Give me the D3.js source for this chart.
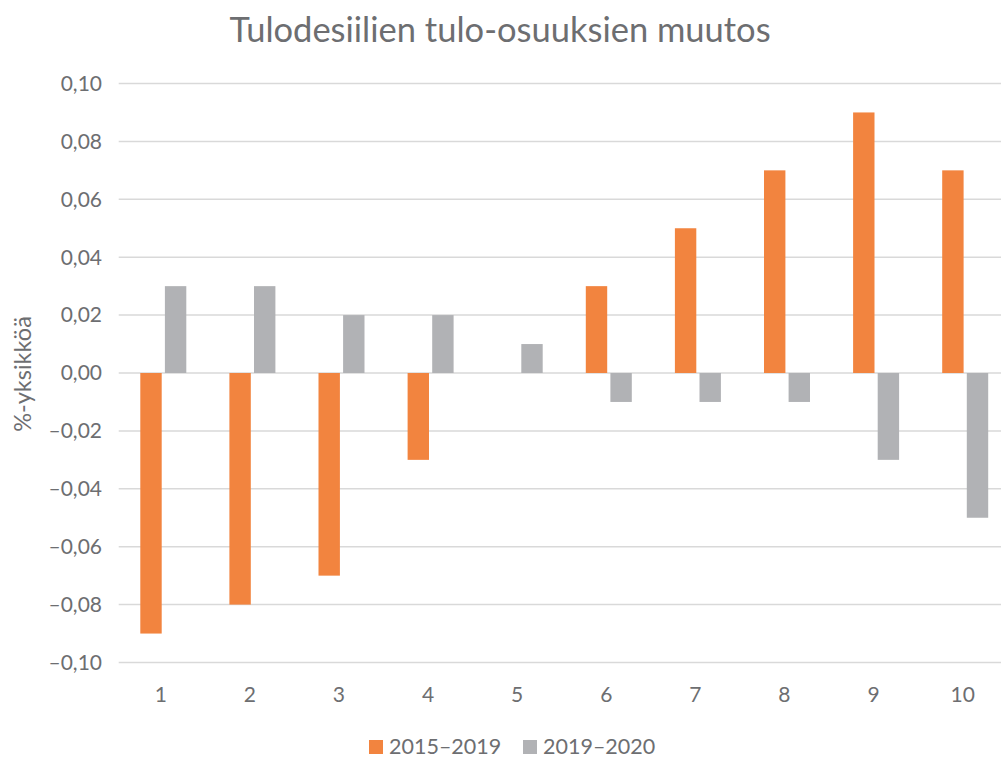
<!DOCTYPE html>
<html>
<head>
<meta charset="utf-8">
<script src="https://cdn.jsdelivr.net/npm/d3@7"></script>
<style>
  body { margin: 0; background: #fff; }
  text { font-family: Lato, "Open Sans", sans-serif; fill: #6d6e71; }
</style>
</head>
<body>
<div id="chart"></div>
<script>
// Data
var deciles = ['1', '2', '3', '4', '5', '6', '7', '8', '9', '10']
var series = ['2015–2019', '2019–2020']
var change2015 = [-0.09, -0.08, -0.07, -0.03, 0, 0.03, 0.05, 0.07, 0.09, 0.07]
var change2019 = [0.03, 0.03, 0.02, 0.02, 0.01, -0.01, -0.01, -0.01, -0.03, -0.05]
var yTicks = [-0.10, -0.08, -0.06, -0.04, -0.02, 0, 0.02, 0.04, 0.06, 0.08, 0.10]
var colors = ['#f2843f', '#b1b2b5']

var W = 1001, H = 758
var svg = d3.select('#chart').append('svg').attr('width', W).attr('height', H)

var rows = deciles.map(function(d, i){ return {dec: d, vals: [change2015[i], change2019[i]]} })

// plot area runs a bit past the right edge, like the original
var x = d3.scaleBand().domain(deciles).range([118.7, 1009.7])
var x1 = d3.scaleBand().domain(series).range([21.6, 67.6]).paddingInner(0.13)
var y = d3.scaleLinear().domain([-0.10, 0.10]).range([662.5, 83.5])

var fmt = function(d){
  var s = Math.abs(d).toFixed(2).replace('.', ',')
  return (d < -1e-9 ? '–' : '') + s
}

// gridlines
svg.append('g').selectAll('line').data(yTicks).join('line')
  .attr('x1', 118.7).attr('x2', W)
  .attr('y1', function(d){ return y(d) }).attr('y2', function(d){ return y(d) })
  .attr('stroke', '#d9d9d9').attr('stroke-width', 1.5)

// y tick labels
svg.append('g').selectAll('text').data(yTicks).join('text')
  .attr('x', 102).attr('y', function(d){ return y(d) })
  .attr('dy', '0.35em').attr('text-anchor', 'end')
  .style('font-size', '21px')
  .text(fmt)

// bars
var g = svg.append('g').selectAll('g').data(rows).join('g')
  .attr('transform', function(d){ return 'translate(' + x(d.dec) + ',0)' })

g.selectAll('rect').data(function(d){ return d.vals.map(function(v, i){ return {s: series[i], v: v, i: i} }) })
  .join('rect')
  .attr('x', function(d){ return x1(d.s) })
  .attr('width', x1.bandwidth())
  .attr('y', function(d){ return y(Math.max(0, d.v)) })
  .attr('height', function(d){ return Math.abs(y(d.v) - y(0)) })
  .attr('fill', function(d){ return colors[d.i] })

// x labels
svg.append('g').selectAll('text').data(deciles).join('text')
  .attr('x', function(d){ return x(d) + x.bandwidth() / 2 - 2.5 })
  .attr('y', 702)
  .attr('text-anchor', 'middle')
  .style('font-size', '21px')
  .text(function(d){ return d })

// title
svg.append('text')
  .attr('x', 500).attr('y', 42)
  .attr('text-anchor', 'middle')
  .style('font-size', '34.5px')
  .text('Tulodesiilien tulo-osuuksien muutos')

// y-axis title
svg.append('text')
  .attr('transform', 'translate(31,374) rotate(-90)')
  .attr('text-anchor', 'middle')
  .style('font-size', '23.5px')
  .text('%-yksikköä')

// legend
var legX = [369, 523]
var leg = svg.append('g').selectAll('g').data(series).join('g')
  .attr('transform', function(d, i){ return 'translate(' + legX[i] + ',740)' })
leg.append('rect').attr('width', 14).attr('height', 14)
  .attr('fill', function(d, i){ return colors[i] })
leg.append('text').attr('x', 20).attr('y', 14)
  .style('font-size', '21.5px')
  .text(function(d){ return d })
</script>
</body>
</html>
